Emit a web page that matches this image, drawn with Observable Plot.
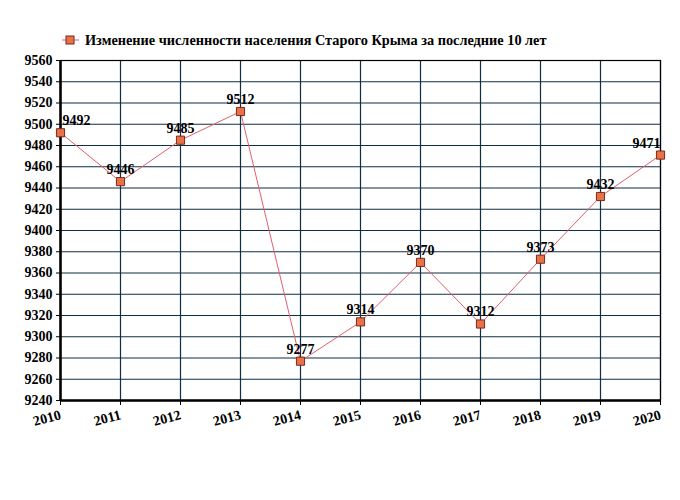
<!DOCTYPE html>
<html>
<head>
<meta charset="utf-8">
<script src="https://cdn.jsdelivr.net/npm/d3@7"></script>
<script src="https://cdn.jsdelivr.net/npm/@observablehq/plot@0.6"></script>
<style>
  body { margin: 0; background: #fff; }
  svg { font-family: "Liberation Serif", "DejaVu Serif", serif; }
</style>
</head>
<body>
<div id="chart"></div>
<script>
const title = "Изменение численности населения Старого Крыма за последние 10 лет";
const years = [2010, 2011, 2012, 2013, 2014, 2015, 2016, 2017, 2018, 2019, 2020];
const population = [9492, 9446, 9485, 9512, 9277, 9314, 9370, 9312, 9373, 9432, 9471];
const yTicks = d3.range(9240, 9561, 20);

const data = years.map((year, i) => ({year, value: population[i], i}));
const last = data.length - 1;
const grid = "#0f2f45";
const labelStyle = {x: "year", y: "value", text: d => String(d.value), dy: -12, fontSize: 14, fontWeight: "bold", fill: "#000"};

const chart = Plot.plot({
  width: 680,
  height: 500,
  marginLeft: 60,
  marginRight: 20,
  marginTop: 60,
  marginBottom: 100,
  style: {fontFamily: "'Liberation Serif', serif", fontSize: "14px", fontWeight: "bold", color: "#000", background: "#fff"},
  x: {domain: [2010, 2020], ticks: years, tickFormat: d => String(d)},
  y: {domain: [9240, 9560], ticks: yTicks, tickFormat: d => String(d)},
  marks: [
    Plot.gridX(years, {stroke: grid, strokeOpacity: 1, strokeWidth: 1.2}),
    Plot.gridY(yTicks, {stroke: grid, strokeOpacity: 1, strokeWidth: 1.2}),
    Plot.frame({stroke: "#000", strokeWidth: 1.2}),
    Plot.axisY({ticks: yTicks, tickSize: 4, tickPadding: 4, label: null, fontSize: 14, fontWeight: "bold", tickFormat: d => String(d)}),
    Plot.axisX({ticks: years, tickSize: 5, tickPadding: 9, tickRotate: -15, label: null, fontSize: 14, fontWeight: "bold", tickFormat: d => String(d)}),
    Plot.ruleX([2010], {stroke: "#000", strokeWidth: 2.5}),
    Plot.ruleY([9240], {stroke: "#000", strokeWidth: 2.5}),
    Plot.line(data, {x: "year", y: "value", stroke: "#e0606a", strokeWidth: 1}),
    Plot.dot(data, {x: "year", y: "value", symbol: "square", r: 4.6, fill: "#e8714a", stroke: "#7a2a18", strokeWidth: 1}),
    Plot.text(data, {...labelStyle, filter: d => d.i === 0, textAnchor: "start", dx: 2}),
    Plot.text(data, {...labelStyle, filter: d => d.i > 0 && d.i < last, textAnchor: "middle"}),
    Plot.text(data, {...labelStyle, filter: d => d.i === last, textAnchor: "end"})
  ]
});

document.getElementById("chart").appendChild(chart);

// legend / title
const svg = d3.select(chart);
const g = svg.append("g").attr("text-anchor", "start");
g.append("line").attr("x1", 62).attr("x2", 79).attr("y1", 40).attr("y2", 40)
  .attr("stroke", "#e0606a").attr("stroke-width", 1);
g.append("rect").attr("x", 66).attr("y", 36).attr("width", 8).attr("height", 8)
  .attr("fill", "#e8714a").attr("stroke", "#7a2a18").attr("stroke-width", 1);
g.append("text").attr("x", 85).attr("y", 45).text(title)
  .attr("text-anchor", "start")
  .attr("font-family", "'Liberation Serif', serif").attr("font-size", 14.3)
  .attr("font-weight", "bold").attr("fill", "#000");
</script>
</body>
</html>
